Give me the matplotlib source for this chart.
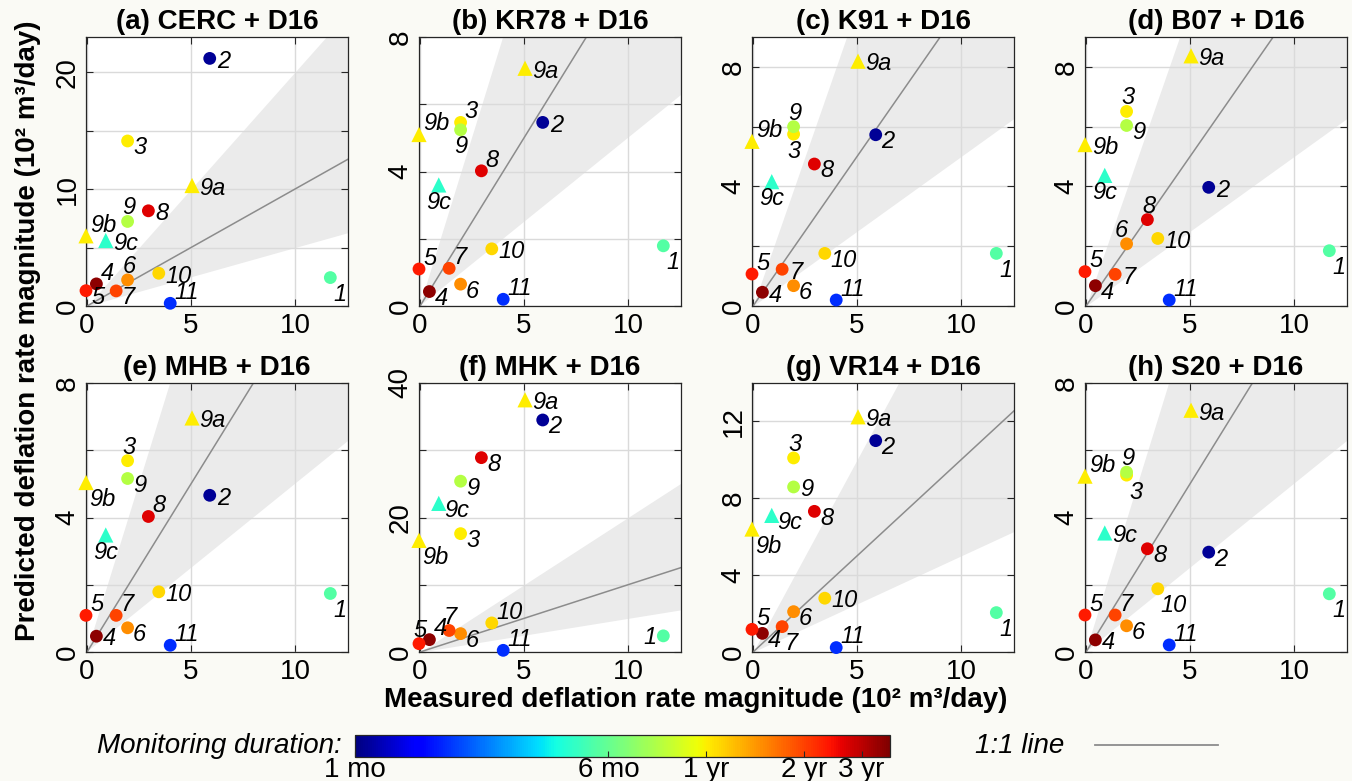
import numpy as np
import matplotlib.pyplot as plt
from matplotlib.colors import LogNorm
from matplotlib.cm import ScalarMappable

plt.rcParams['font.family'] = ['Liberation Sans', 'DejaVu Sans']

# ---------------------------------------------------------------
# data (rates in 10^2 m^3/day, monitoring duration in months)
# ---------------------------------------------------------------
SITES = ["1", "2", "3", "4", "5", "6", "7", "8", "9", "9a", "9b", "9c", "10", "11"]
MEASURED = [11.7, 5.9, 1.95, 0.45, -0.05, 1.95, 1.4, 2.95, 1.95, 5.05, -0.05, 0.9, 3.45, 4.0]
DURATION_MONTHS = [5.5, 1.08, 12, 42, 28, 17.7, 23.7, 32, 8.6, 12, 12, 4.6, 13.2, 1.9]

PRED_CERC = [2.43, 21.17, 14.11, 1.89, 1.31, 2.23, 1.29, 8.14, 7.23, 10.3, 6.0, 5.6, 2.8, 0.23]
PRED_KR78 = [1.79, 5.46, 5.46, 0.43, 1.1, 0.65, 1.12, 4.02, 5.24, 7.07, 5.1, 3.6, 1.7, 0.2]
PRED_K91 = [1.76, 5.73, 5.75, 0.46, 1.07, 0.68, 1.23, 4.75, 6.0, 8.19, 5.51, 4.16, 1.76, 0.2]
PRED_B07 = [1.85, 3.97, 6.51, 0.68, 1.15, 2.08, 1.06, 2.89, 6.04, 8.37, 5.4, 4.37, 2.26, 0.2]
PRED_MHB = [1.74, 4.66, 5.69, 0.47, 1.09, 0.72, 1.09, 4.03, 5.16, 6.96, 5.04, 3.48, 1.79, 0.2]
PRED_MHK = [2.4, 34.5, 17.6, 1.84, 1.24, 2.73, 3.2, 28.9, 25.4, 37.5, 16.6, 22.1, 4.32, 0.25]
PRED_VR14 = [2.05, 11.0, 10.1, 0.97, 1.18, 2.1, 1.32, 7.32, 8.59, 12.24, 6.4, 7.11, 2.8, 0.23]
PRED_S20 = [1.73, 2.97, 5.26, 0.36, 1.1, 0.78, 1.1, 3.07, 5.35, 7.19, 5.23, 3.54, 1.88, 0.21]

TITLES = ["(a) CERC + D16", "(b) KR78 + D16", "(c) K91 + D16", "(d) B07 + D16",
          "(e) MHB + D16", "(f) MHK + D16", "(g) VR14 + D16", "(h) S20 + D16"]
PREDICTED = [PRED_CERC, PRED_KR78, PRED_K91, PRED_B07,
             PRED_MHB, PRED_MHK, PRED_VR14, PRED_S20]

YMAX = [23, 8, 9, 9, 8, 40, 14, 8]
YTICKS = [[0, 5, 10, 15, 20], [0, 2, 4, 6, 8], [0, 2, 4, 6, 8], [0, 2, 4, 6, 8],
          [0, 2, 4, 6, 8], [0, 10, 20, 30, 40], [0, 4, 8, 12], [0, 2, 4, 6, 8]]
YLABELED = [[0, 10, 20], [0, 4, 8], [0, 4, 8], [0, 4, 8],
            [0, 4, 8], [0, 20, 40], [0, 4, 8, 12], [0, 4, 8]]

CBAR_TICKS = [1, 6, 12, 24, 36]
CBAR_LABELS = ["1 mo", "6 mo", "1 yr", "2 yr", "3 yr"]

# ---------------------------------------------------------------
# label placement (per panel, same order as SITES)
# ---------------------------------------------------------------
LABEL_POS = [
    ["br", "r", "rb", "ur", "rb", "a", "rb", "r", "a", "r", "ur", "r", "r", "ur"],
    ["br", "r", "ur", "rb", "ur", "rb", "ur", "ur", "b", "r", "ur", "b", "r", "ur"],
    ["br", "rb", "b", "r", "ur", "rb", "r", "rb", "a", "r", "ur", "b", "rb", "ur"],
    ["br", "r", "a", "rb", "ur", "al", "r", "a", "rb", "r", "r", "b", "r", "ur"],
    ["br", "r", "a", "r", "ur", "rb", "ur", "ur", "rb", "r", "br", "b", "r", "ur"],
    ["l", "rb", "rb", "ur", "a", "rb", "a", "rb", "rb", "r", "br", "rb", "ur", "ur"],
    ["br", "rb", "a", "rb", "ur", "rb", "br", "rb", "r", "r", "br", "rb", "r", "ur"],
    ["br", "rb", "br", "r", "ur", "rb", "ur", "rb", "a", "r", "ur", "r", "br", "ur"],
]
POS_STYLE = {
    "r": ((5, -2), "left", "center"),
    "rb": ((4, -5), "left", "center"),
    "ur": ((3, 3), "left", "baseline"),
    "br": ((2, -4), "left", "top"),
    "a": ((1, 5), "center", "baseline"),
    "al": ((-4, 5), "center", "baseline"),
    "b": ((0, -4), "center", "top"),
    "l": ((-5, -1), "right", "center"),
}

W, H = 1352, 781
BG = "#fafaf5"
XLIM = (-0.05, 12.55)
COL_LEFT = [86, 419, 752, 1085]
ROW_TOP = [37, 383]
AX_W, AX_H = 262, 269

cmap = plt.get_cmap("jet")
norm = LogNorm(vmin=1, vmax=44)

fig = plt.figure(figsize=(W / 100, H / 100), dpi=100, facecolor=BG)

for k in range(8):
    r, c = divmod(k, 4)
    ax = fig.add_axes([COL_LEFT[c] / W, 1 - (ROW_TOP[r] + AX_H) / H, AX_W / W, AX_H / H])
    ax.set_xlim(*XLIM)
    ax.set_ylim(0, YMAX[k])
    ax.set_axisbelow(True)

    # factor-of-two band and 1:1 line
    xb = np.array([0, XLIM[1]])
    ax.fill_between(xb, xb / 2, xb * 2, color="#ebebeb", lw=0, zorder=0.2)
    ax.plot(xb, xb, color="#8c8c8c", lw=1.1, zorder=1.5)

    pred = PREDICTED[k]
    for i, s in enumerate(SITES):
        marker = "^" if s[-1].isalpha() else "o"
        size = 120 if marker == "^" else 85
        ax.scatter(MEASURED[i], pred[i], s=size, marker=marker,
                   color=cmap(norm(DURATION_MONTHS[i])), edgecolors="none",
                   zorder=3, clip_on=False)
        (dx, dy), ha, va = POS_STYLE[LABEL_POS[k][i]]
        ax.annotate(s, (MEASURED[i], pred[i]), xytext=(dx, dy),
                    textcoords="offset points", ha=ha, va=va,
                    fontsize=17, style="italic", zorder=4,
                    annotation_clip=False)

    ax.set_xticks([0, 5, 10])
    ax.set_yticks(YTICKS[k], [str(t) if t in YLABELED[k] else "" for t in YTICKS[k]])
    for lab in ax.get_yticklabels():
        lab.set_rotation(90)
        lab.set_va("center")
    ax.tick_params(direction="in", length=5, width=0.8, top=True, right=True,
                   labelsize=20, color="#262626", pad=5)
    ax.tick_params(axis="y", pad=4)
    ax.grid(True, color="#dadada", lw=1)
    for sp in ax.spines.values():
        sp.set_color("#262626")
        sp.set_linewidth(0.9)
    ax.set_title(TITLES[k], fontsize=20, fontweight="bold", pad=6)

fig.text(28 / W, 1 - 331 / H, "Predicted deflation rate magnitude (10\u00b2 m\u00b3/day)",
         rotation=90, ha="center", va="center", fontsize=20, fontweight="bold")
fig.text(696 / W, 1 - 700 / H, "Measured deflation rate magnitude (10\u00b2 m\u00b3/day)",
         ha="center", va="center", fontsize=20, fontweight="bold")

# colorbar
cax = fig.add_axes([355 / W, 1 - 757 / H, 535 / W, 22 / H])
cb = fig.colorbar(ScalarMappable(norm=norm, cmap=cmap), cax=cax, orientation="horizontal")
cb.set_ticks(CBAR_TICKS)
cb.set_ticklabels(CBAR_LABELS)
cb.ax.minorticks_off()
cb.ax.tick_params(direction="in", length=4, labelsize=20, pad=0, color="#262626")
cb.outline.set_edgecolor("#262626")
cb.outline.set_linewidth(0.9)

fig.text(342 / W, 1 - 746 / H, "Monitoring duration:", ha="right", va="center",
         fontsize=20, style="italic")
fig.text(975 / W, 1 - 746 / H, "1:1 line", ha="left", va="center",
         fontsize=20, style="italic")
fig.add_artist(plt.Line2D([1095 / W, 1218 / W], [1 - 745 / H, 1 - 745 / H],
                          color="#8c8c8c", lw=1.3))

fig.savefig("out.png", dpi=100, facecolor=BG)
